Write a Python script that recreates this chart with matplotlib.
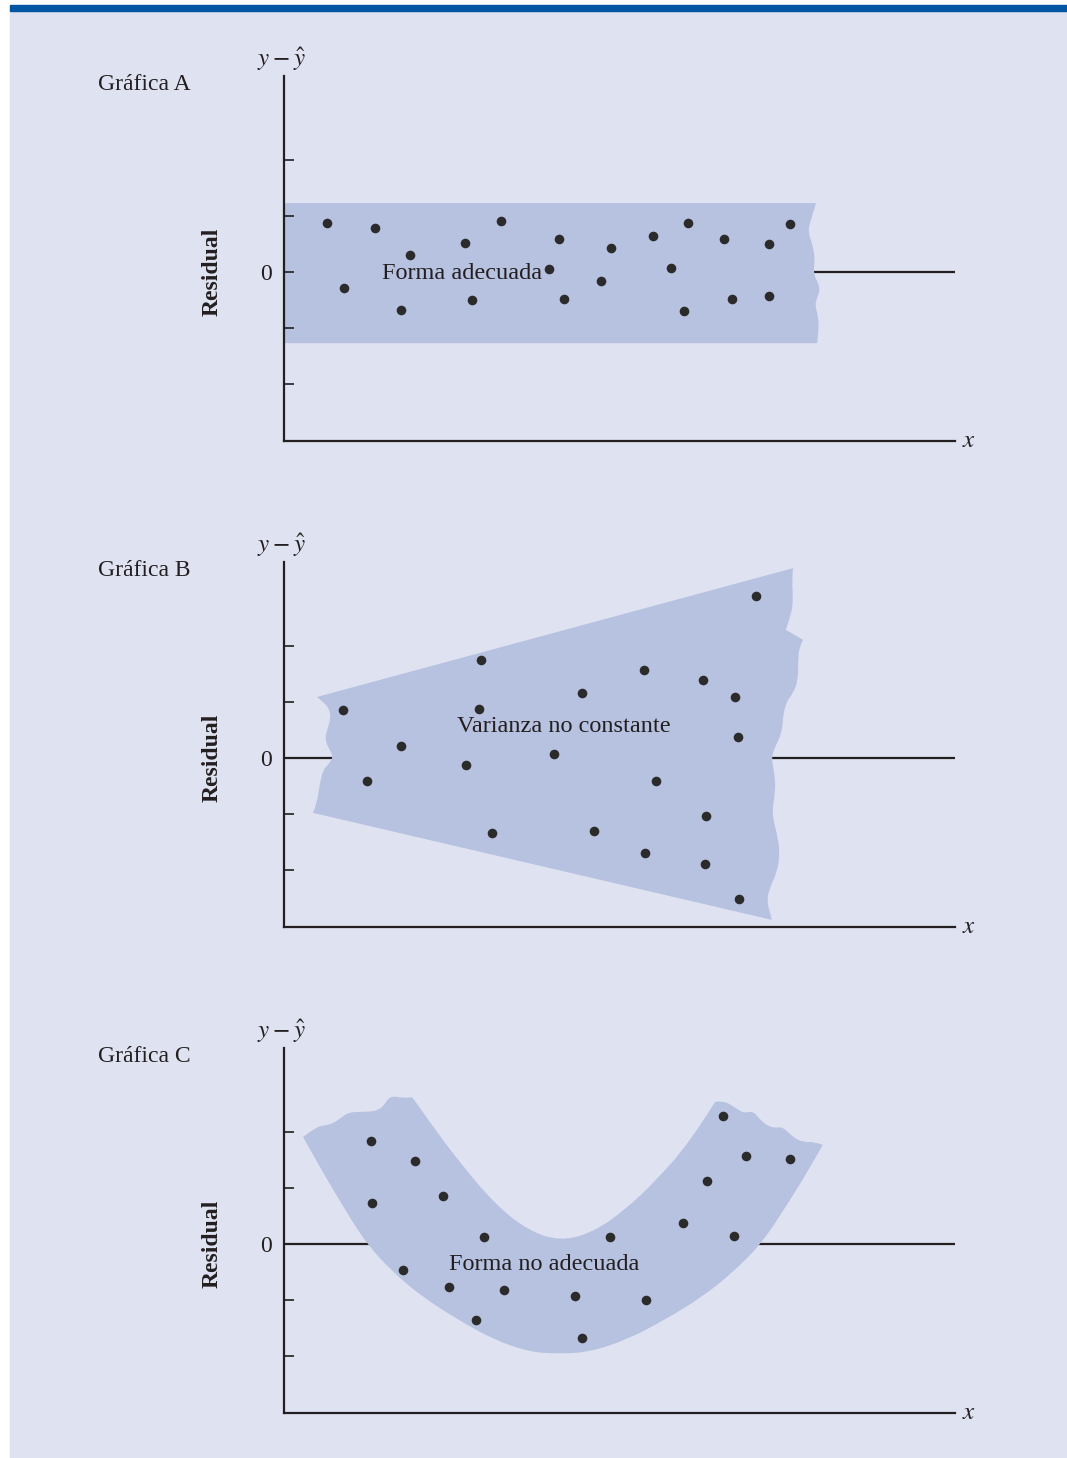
# Residual plots: three patterns (A, B, C)
import numpy as np
import matplotlib.pyplot as plt
from matplotlib.patches import Rectangle, PathPatch
from matplotlib.path import Path

plt.rcParams['font.family'] = ['Liberation Serif', 'DejaVu Serif']
plt.rcParams['mathtext.fontset'] = 'stix'

# ---- data (residual units) ----
titles = ['Gráfica A', 'Gráfica B', 'Gráfica C']
band_labels = ['Forma adecuada', 'Varianza no constante', 'Forma no adecuada']

a_x = [0.77, 1.62, 1.07, 2.25, 2.09, 3.23, 3.88, 3.36, 4.73, 4.91, 5.00,
       5.66, 5.84, 6.59, 6.91, 7.21, 7.14, 7.86, 8.00, 8.66, 8.66, 9.04]
a_y = [0.88, 0.79, -0.29, 0.30, -0.68, 0.52, 0.91, -0.50, 0.05, 0.59, -0.48,
       -0.16, 0.43, 0.64, 0.07, 0.88, -0.70, 0.59, -0.48, 0.50, -0.43, 0.86]

b_x = [1.05, 3.52, 3.48, 2.09, 1.48, 3.25, 3.71, 4.82, 5.32, 5.54, 6.43,
       6.45, 6.64, 7.48, 8.05, 8.11, 7.54, 7.52, 8.12, 8.43]
b_y = [0.86, 1.75, 0.88, 0.21, -0.41, -0.12, -1.34, 0.07, 1.16, -1.30, 1.57,
       -1.70, -0.41, 1.39, 1.09, 0.38, -1.04, -1.89, -2.52, 2.89]

c_x = [1.55, 2.34, 1.57, 2.84, 2.12, 3.57, 2.95, 3.43, 3.93, 5.20, 5.32,
       5.82, 6.46, 7.12, 7.55, 7.84, 8.25, 9.04, 8.04]
c_y = [1.84, 1.48, 0.73, 0.86, -0.46, 0.12, -0.77, -1.36, -0.82, -0.93, -1.68,
       0.12, -1.00, 0.38, 1.12, 2.29, 1.57, 1.52, 0.14]

# band outlines, one list per edge (x, y), drawn in order
band_a = [
    [(0, 1.23), (9.50, 1.23)],
    [(9.50, 1.23), (9.39, 0.88), (9.36, 0.71), (9.45, 0.45), (9.48, 0.21),
     (9.45, -0.02), (9.54, -0.20), (9.57, -0.32), (9.52, -0.46), (9.48, -0.59),
     (9.54, -0.80), (9.55, -1.04), (9.52, -1.27)],
    [(9.52, -1.27), (0, -1.27)],
]

band_b = [
    [(0.59, 1.09), (9.09, 3.39)],
    [(9.09, 3.39), (9.07, 3.18), (9.09, 2.88), (9.07, 2.59), (8.96, 2.29)],
    [(8.96, 2.29), (9.27, 2.11)],
    [(9.27, 2.11), (9.20, 1.98), (9.18, 1.75), (9.18, 1.39), (9.09, 1.16),
     (8.96, 0.98), (8.91, 0.73), (8.89, 0.45), (8.77, 0.20), (8.70, 0.00),
     (8.77, -0.34), (8.77, -0.62), (8.71, -0.98), (8.80, -1.34),
     (8.86, -1.70), (8.80, -2.05), (8.68, -2.30), (8.62, -2.54),
     (8.68, -2.77), (8.71, -2.89)],
    [(8.71, -2.89), (0.52, -0.98)],
    [(0.52, -0.98), (0.59, -0.80), (0.64, -0.45), (0.70, -0.21), (0.79, -0.12),
     (0.88, 0.02), (0.82, 0.14), (0.73, 0.32), (0.77, 0.50), (0.84, 0.73),
     (0.80, 0.89), (0.70, 1.00), (0.59, 1.09)],
]

band_c = [
    [(0.34, 1.91), (0.70, 1.27), (1.02, 0.73), (1.46, 0.02), (1.96, -0.52),
     (2.48, -0.95), (3.12, -1.36), (3.75, -1.71), (4.39, -1.93),
     (4.91, -1.96), (5.45, -1.93), (6.12, -1.71), (6.79, -1.36),
     (7.46, -0.95), (8.00, -0.52), (8.54, 0.02), (9.00, 0.73),
     (9.34, 1.27), (9.62, 1.77)],
    [(9.62, 1.77), (9.50, 1.82), (9.27, 1.82), (9.11, 1.89), (8.95, 2.05),
     (8.86, 2.09), (8.77, 2.07), (8.61, 2.12), (8.48, 2.25), (8.38, 2.36),
     (8.29, 2.36), (8.21, 2.34), (8.09, 2.41), (7.96, 2.50), (7.84, 2.55),
     (7.70, 2.54)],
    [(7.70, 2.54), (7.25, 1.82), (6.62, 1.11), (6.09, 0.61), (5.52, 0.21),
     (4.93, 0.05), (4.34, 0.25), (3.75, 0.73), (3.12, 1.48), (2.68, 2.07),
     (2.29, 2.62)],
    [(2.29, 2.62), (2.20, 2.61), (2.04, 2.62), (1.93, 2.64), (1.84, 2.57),
     (1.79, 2.48), (1.68, 2.39), (1.52, 2.36), (1.27, 2.36), (1.14, 2.34),
     (1.04, 2.27), (0.89, 2.16), (0.75, 2.12), (0.57, 2.09), (0.34, 1.91)],
]

points = [(a_x, a_y), (b_x, b_y), (c_x, c_y)]
bands = [band_a, band_b, band_c]
label_pos = [(3.18, -0.02), (5.0, 0.57), (4.64, -0.375)]


def band_path(edges):
    # each edge becomes a smooth quadratic B-spline through its end points
    verts, codes = [], []
    for k, e in enumerate(edges):
        e = np.asarray(e, dtype=float)
        verts.append(e[0])
        codes.append(Path.MOVETO if k == 0 else Path.LINETO)
        if len(e) == 2:
            verts.append(e[1])
            codes.append(Path.LINETO)
            continue
        for j in range(1, len(e) - 1):
            end = e[j + 1] if j == len(e) - 2 else (e[j] + e[j + 1]) / 2
            verts += [e[j], end]
            codes += [Path.CURVE3, Path.CURVE3]
    verts.append(verts[0])
    codes.append(Path.CLOSEPOLY)
    return Path(verts, codes)


# ---- style ----
bg = '#dfe2f1'
band_col = '#b7c1e0'
ink = '#231f20'
W, H = 1067, 1458

fig = plt.figure(figsize=(W / 100, H / 100), dpi=100)
fig.patch.set_facecolor('white')
fig.add_artist(Rectangle((10 / W, 0), 1 - 10 / W, 1 - 11 / H,
                         transform=fig.transFigure, color=bg, zorder=0))
fig.add_artist(Rectangle((10 / W, 1 - 11 / H), 1 - 10 / W, 6 / H,
                         transform=fig.transFigure, color='#0056a2', zorder=0))

for i in range(3):
    off = 486 * i
    top, bot = 76 + off, 441 + off
    ax = fig.add_axes([284 / W, 1 - bot / H, 671 / W, (bot - top) / H])
    ax.set_facecolor('none')
    ax.set_axisbelow(False)
    ax.set_xlim(0, 671 / 56)
    ax.set_ylim(-169 / 56, 196 / 56)
    for s in ['top', 'right']:
        ax.spines[s].set_visible(False)
    for s in ['left', 'bottom']:
        ax.spines[s].set_color(ink)
        ax.spines[s].set_linewidth(1.6)
    ax.set_xticks([])
    ax.set_yticks([-2, -1, 0, 1, 2])
    ax.set_yticklabels(['', '', '0', '', ''])
    ax.tick_params(axis='y', direction='in', length=7.5, width=1.2,
                   color=ink, labelsize=17, pad=9, labelcolor=ink)

    ax.axhline(0, color=ink, lw=1.6, zorder=1)
    ax.add_patch(PathPatch(band_path(bands[i]), facecolor=band_col,
                           lw=0, zorder=2))
    px, py = points[i]
    ax.scatter(px, py, s=48, color='#2b2b2b', lw=0, zorder=3)

    lx, ly = label_pos[i]
    ax.text(lx, ly, band_labels[i], fontsize=17.5, color=ink,
            ha='center', va='center', zorder=4)
    ax.text(-3.32, 3.34, titles[i], fontsize=17, color=ink,
            ha='left', va='center')
    ax.text(-1.29, 0, 'Residual', fontsize=17, fontweight='bold', color=ink,
            rotation=90, ha='center', va='center')
    ax.text(-0.05, 3.8, r'$y-\hat{y}$', fontsize=18, color=ink,
            ha='center', va='center')
    ax.text(12.23, -169 / 56, r'$x$', fontsize=18, color=ink,
            ha='center', va='center')

fig.savefig('out.png', dpi=100, facecolor=fig.get_facecolor())
